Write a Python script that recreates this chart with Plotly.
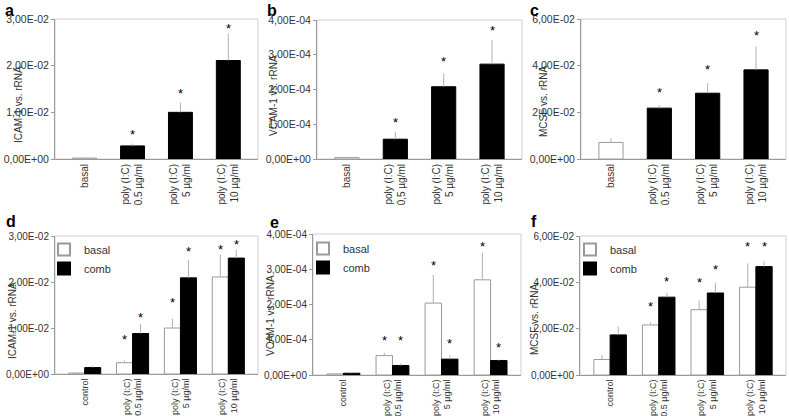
import plotly.graph_objects as go

# ---------------- data ----------------
cats_top = ["basal", "poly (I:C)<br>0.5 µg/ml", "poly (I:C)<br>5 µg/ml", "poly (I:C)<br>10 µg/ml"]
cats_top_b = ["basal", "poly (I:C)<br>0,5 µg/ml", "poly (I:C)<br>5 µg/ml", "poly (I:C)<br>10 µg/ml"]
cats_bot = ["control", "poly (I:C)<br>0.5 µg/ml", "poly (I:C)<br>5 µg/ml", "poly (I:C)<br>10 µg/ml"]
cats_bot_e = ["control", "poly (I:C)<br>0,5 µg/ml", "poly (I:C)<br>5 µg/ml", "poly (I:C)<br>10 µg/ml"]

a_vals = [2e-4, 2.8e-3, 1.0e-2, 2.11e-2]
a_err = [1e-4, 5e-4, 2.1e-3, 5.8e-3]
a_sig = [None, 5.9e-3, 1.47e-2, 2.85e-2]

b_vals = [4e-6, 5.7e-5, 2.08e-4, 2.73e-4]
b_err = [1e-6, 2.2e-5, 3.8e-5, 6.9e-5]
b_sig = [None, 1.15e-4, 2.88e-4, 3.78e-4]

c_vals = [7.1e-3, 2.18e-2, 2.82e-2, 3.82e-2]
c_err = [1.7e-3, 1.2e-3, 4.3e-3, 1.0e-2]
c_sig = [None, 2.99e-2, 3.96e-2, 5.43e-2]

d_basal = [2e-4, 2.45e-3, 1.0e-2, 2.11e-2]
d_basal_err = [1e-4, 5e-4, 2.0e-3, 4.9e-3]
d_basal_sig = [None, 8.1e-3, 1.62e-2, 2.78e-2]
d_comb = [1.4e-3, 8.8e-3, 2.09e-2, 2.52e-2]
d_comb_err = [3e-4, 2.1e-3, 3.9e-3, 1.8e-3]
d_comb_sig = [None, 1.30e-2, 2.72e-2, 2.87e-2]

e_basal = [3e-6, 5.5e-5, 2.04e-4, 2.70e-4]
e_basal_err = [1e-6, 8e-6, 8.0e-5, 7.7e-5]
e_basal_sig = [None, 1.06e-4, 3.20e-4, 3.74e-4]
e_comb = [5e-6, 2.7e-5, 4.5e-5, 4.1e-5]
e_comb_err = [1e-6, 6e-6, 1.0e-5, 3e-6]
e_comb_sig = [None, 1.06e-4, 0.97e-4, 0.86e-4]

f_basal = [6.7e-3, 2.16e-2, 2.82e-2, 3.79e-2]
f_basal_err = [1.9e-3, 1.2e-3, 4.0e-3, 1.03e-2]
f_basal_sig = [None, 3.08e-2, 4.12e-2, 5.68e-2]
f_comb = [1.73e-2, 3.36e-2, 3.54e-2, 4.68e-2]
f_comb_err = [3.6e-3, 1.9e-3, 4.3e-3, 2.2e-3]
f_comb_sig = [None, 4.15e-2, 4.68e-2, 5.68e-2]

icam_ticks = [0, 0.01, 0.02, 0.03]
icam_text = ["0,00E+00", "1,00E-02", "2,00E-02", "3,00E-02"]
vcam_ticks = [0, 1e-4, 2e-4, 3e-4, 4e-4]
vcam_text = ["0,00E+00", "1,00E-04", "2,00E-04", "3,00E-04", "4,00E-04"]
mcsf_ticks = [0, 0.02, 0.04, 0.06]
mcsf_text = ["0,00E+00", "2,00E-02", "4,00E-02", "6,00E-02"]

# ---------------- layout helpers ----------------
W, H = 789, 416
FONT = "Liberation Sans, Arial, sans-serif"
TXT = "#333333"
GRAY = "#9a9a9a"
ERRC = "#b0b0b0"

def px_x(v):
    return v / W

def px_y(v):
    return 1 - v / H

# plot rectangles in pixels: (left, right, top, bottom)
rects = {
    1: (55, 258, 19, 159),
    2: (317, 522, 20, 159),
    3: (581, 786, 19, 159),
    4: (55, 258, 236, 374),
    5: (313, 521, 234, 375),
    6: (580, 786, 236, 375),
}

fig = go.Figure()
annotations = []
shapes = []

def err(arr):
    return dict(type="data", array=arr, symmetric=False, arrayminus=[0] * len(arr),
                color=ERRC, thickness=1, width=0)

def stars(xref, yref, xs, sig):
    for xv, s in zip(xs, sig):
        if s is None:
            continue
        annotations.append(dict(x=xv, y=s, xref=xref, yref=yref, text="*", showarrow=False,
                                font=dict(family=FONT, size=13, color="black"),
                                yanchor="middle", yshift=-3))

# top row: single series
top = [
    (1, cats_top, a_vals, a_err, a_sig),
    (2, cats_top_b, b_vals, b_err, b_sig),
    (3, cats_top, c_vals, c_err, c_sig),
]
for idx, cats, vals, errs, sig in top:
    xa = "x" if idx == 1 else f"x{idx}"
    ya = "y" if idx == 1 else f"y{idx}"
    colors = ["white"] + ["black"] * (len(vals) - 1)
    lines = [GRAY] + ["black"] * (len(vals) - 1)
    fig.add_trace(go.Bar(x=cats, y=vals, error_y=err(errs), width=0.5,
                         marker=dict(color=colors, line=dict(color=lines, width=1)),
                         xaxis=xa, yaxis=ya, showlegend=False))
    stars(xa, ya, list(range(len(vals))), sig)

# bottom row: grouped
bot = [
    (4, cats_bot, d_basal, d_basal_err, d_basal_sig, d_comb, d_comb_err, d_comb_sig, "legend"),
    (5, cats_bot_e, e_basal, e_basal_err, e_basal_sig, e_comb, e_comb_err, e_comb_sig, "legend2"),
    (6, cats_bot, f_basal, f_basal_err, f_basal_sig, f_comb, f_comb_err, f_comb_sig, "legend3"),
]
BW = 0.335
for idx, cats, bv, be, bs, cv, ce, cs, leg in bot:
    xa, ya = f"x{idx}", f"y{idx}"
    fig.add_trace(go.Bar(x=cats, y=bv, error_y=err(be), width=BW, offset=-BW,
                         name="basal", legend=leg,
                         marker=dict(color="white", line=dict(color=GRAY, width=1)),
                         xaxis=xa, yaxis=ya))
    fig.add_trace(go.Bar(x=cats, y=cv, error_y=err(ce), width=BW, offset=0,
                         name="comb", legend=leg,
                         marker=dict(color="black", line=dict(color="black", width=1)),
                         xaxis=xa, yaxis=ya))
    stars(xa, ya, [i - BW / 2 for i in range(len(bv))], bs)
    stars(xa, ya, [i + BW / 2 for i in range(len(cv))], cs)

# axes
ycfg = {
    1: (0.03, icam_ticks, icam_text, "ICAM-1 vs. rRNA"),
    2: (4e-4, vcam_ticks, vcam_text, "VCAM-1 vs. rRNA"),
    3: (0.06, mcsf_ticks, mcsf_text, "MCSF vs. rRNA"),
    4: (0.03, icam_ticks, icam_text, "ICAM-1 vs. rRNA"),
    5: (4e-4, vcam_ticks, vcam_text, "VCAM-1 vs. rRNA"),
    6: (0.06, mcsf_ticks, mcsf_text, "MCSF vs. rRNA"),
}
letters = {1: ("a", 3, 0), 2: ("b", 265, 0), 3: ("c", 528, 0),
           4: ("d", 4, 211), 5: ("e", 268, 212), 6: ("f", 529, 211)}
# y-title placement (pixel x centre, pixel y centre)
ytitle_pos = {1: (18, 105), 2: (273, 96), 3: (543, 102),
              4: (12, 321), 5: (270, 316), 6: (534, 320)}

layout = {}
for idx, (l, r, t, b) in rects.items():
    xn = "xaxis" if idx == 1 else f"xaxis{idx}"
    yn = "yaxis" if idx == 1 else f"yaxis{idx}"
    ya = "y" if idx == 1 else f"y{idx}"
    xa = "x" if idx == 1 else f"x{idx}"
    ymax, tv, tt, title = ycfg[idx]
    xfs = 10 if idx <= 3 else 9
    layout[xn] = dict(domain=[px_x(l), px_x(r)], anchor=ya, type="category",
                      range=[-0.62, 3.62], tickangle=-90, showline=True, linecolor=GRAY,
                      linewidth=1, ticks="", showgrid=False, zeroline=False, automargin=False,
                      tickfont=dict(family=FONT, size=xfs, color=TXT))
    layout[yn] = dict(domain=[px_y(b), px_y(t)], anchor=xa, range=[0, ymax],
                      tickvals=tv, ticktext=tt, showline=True, linecolor=GRAY, linewidth=1,
                      ticks="outside", ticklen=3, tickcolor=GRAY, showgrid=False,
                      zeroline=False, automargin=False,
                      tickfont=dict(family=FONT, size=10.5 if idx <= 3 else 10, color=TXT))
    # light frame on top / right
    shapes.append(dict(type="rect", xref=f"{xa} domain", yref=f"{ya} domain",
                       x0=0, x1=1, y0=0, y1=1, line=dict(color="#cfcfcf", width=1),
                       layer="below"))
    # y title
    tx, ty = ytitle_pos[idx]
    annotations.append(dict(x=px_x(tx), y=px_y(ty), xref="paper", yref="paper",
                            text=title, textangle=-90, showarrow=False,
                            font=dict(family=FONT, size=10, color=TXT),
                            xanchor="center", yanchor="middle"))
    lt, lx, ly = letters[idx]
    annotations.append(dict(x=px_x(lx), y=px_y(ly), xref="paper", yref="paper",
                            text=f"<b>{lt}</b>", showarrow=False,
                            font=dict(family=FONT, size=16, color="black"),
                            xanchor="left", yanchor="top"))

leg_common = dict(font=dict(family=FONT, size=11, color=TXT), bgcolor="rgba(0,0,0,0)",
                  xanchor="left", yanchor="top", itemsizing="constant", tracegroupgap=0)
layout["legend"] = dict(x=px_x(44), y=px_y(235), **leg_common)
layout["legend2"] = dict(x=px_x(303), y=px_y(234), **leg_common)
layout["legend3"] = dict(x=px_x(570), y=px_y(235), **leg_common)

fig.update_layout(width=W, height=H, margin=dict(l=0, r=0, t=0, b=0, autoexpand=False),
                  paper_bgcolor="white", plot_bgcolor="white", barmode="overlay",
                  showlegend=True, annotations=annotations, shapes=shapes,
                  font=dict(family=FONT, color=TXT), **layout)

fig.write_html("out.html", config={"displayModeBar": False},
               post_script="document.body.style.margin='0';")
